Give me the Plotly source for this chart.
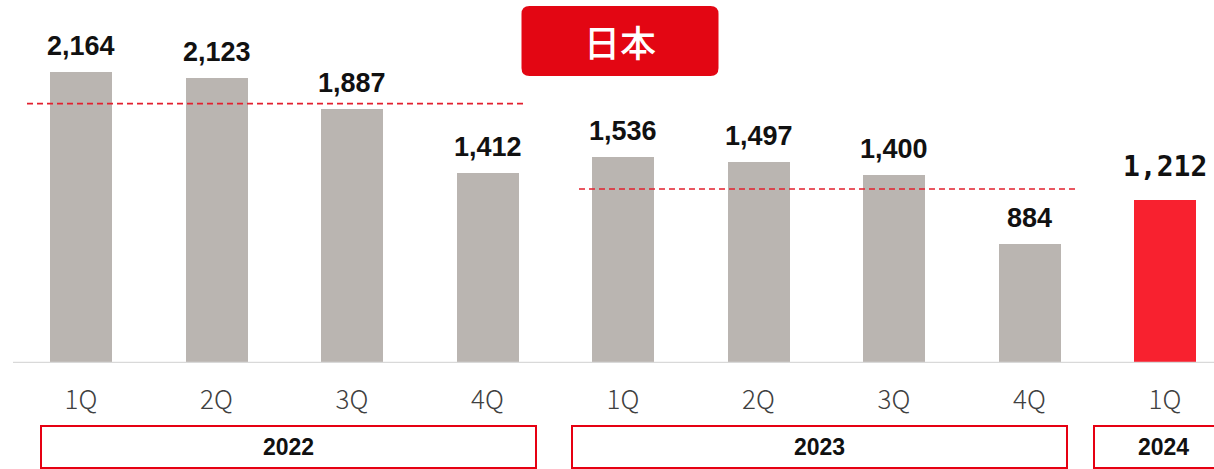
import plotly.graph_objects as go

# Quarterly values (Japan)
quarters = ["1Q", "2Q", "3Q", "4Q", "1Q", "2Q", "3Q", "4Q", "1Q"]
values = [2164, 2123, 1887, 1412, 1536, 1497, 1400, 884, 1212]
bar_colors = ["#bab5b1"] * 8 + ["#f8212f"]

# Year groups: label, first and last quarter index
years = ["2022", "2023", "2024"]
year_start = [0, 4, 8]
year_end = [3, 7, 8]

# Reference level per year (dashed guide lines)
guide_levels = [1930, 1295]

W, H = 1214, 469
PLOT_H = 363                    # pixel height of the plotting area
STEP = 135.5                    # pixels per category
X0 = 81.0                       # pixel centre of first category
UNITS_PER_PX = 7.44

# layout geometry (pixels)
YEAR_BOX_SPANS = [(41, 536), (572, 1067), (1094, 1232)]
GUIDE_SPANS = [(27, 524), (579, 1075)]

def px_to_x(p):
    return (p - X0) / STEP

def py_to_paper(p):
    return (PLOT_H - p) / PLOT_H

xs = list(range(len(values)))

fig = go.Figure()
fig.add_trace(go.Bar(
    x=xs, y=values,
    marker=dict(color=bar_colors, line=dict(width=0)),
    width=62 / STEP,
    hoverinfo="skip",
))

annotations = []
# value labels above bars
for i, v in enumerate(values):
    last = i == len(values) - 1
    annotations.append(dict(
        x=i, y=v, xref="x", yref="y",
        text=f"{v:,}", showarrow=False,
        xanchor="center", yanchor="bottom",
        yshift=15 if last else 9,
        font=dict(
            family="DejaVu Sans Mono" if last else "Liberation Sans",
            size=28 if last else 27,
            color="#111111", weight="bold"),
    ))

shapes = []
# horizontal base line
shapes.append(dict(type="line", xref="paper", yref="y",
                   x0=13 / W, x1=1, y0=0, y1=0,
                   line=dict(color="#d9d9d9", width=2.5), layer="above"))

# dashed guide lines over each year's bars
for lvl, (p0, p1) in zip(guide_levels, GUIDE_SPANS):
    shapes.append(dict(type="line", xref="x", yref="y",
                       x0=px_to_x(p0), x1=px_to_x(p1), y0=lvl, y1=lvl,
                       line=dict(color="#e2202e", width=1.6, dash="6px,4px"),
                       layer="above"))

# year boxes under the axis
box_top = py_to_paper(426)
box_bot = py_to_paper(468)
for label, (p0, p1) in zip(years, YEAR_BOX_SPANS):
    shapes.append(dict(type="rect", xref="x", yref="paper",
                       x0=px_to_x(p0), x1=px_to_x(p1), y0=box_bot, y1=box_top,
                       line=dict(color="#e60012", width=2),
                       fillcolor="rgba(0,0,0,0)"))
    annotations.append(dict(
        x=px_to_x((p0 + p1) / 2), y=(box_top + box_bot) / 2, xref="x", yref="paper",
        text=label, showarrow=False, xanchor="center", yanchor="middle",
        font=dict(family="Liberation Sans", size=23, color="#111111",
                  weight="bold"),
    ))

# rounded title badge
bx0, bx1, by0, by1, r = 521.5, 718.5, 6.0, 76.0, 8.0
def P(px, py):
    return f"{px / W:.5f},{py_to_paper(py):.5f}"
path = (f"M {P(bx0 + r, by0)} L {P(bx1 - r, by0)} Q {P(bx1, by0)} {P(bx1, by0 + r)} "
        f"L {P(bx1, by1 - r)} Q {P(bx1, by1)} {P(bx1 - r, by1)} "
        f"L {P(bx0 + r, by1)} Q {P(bx0, by1)} {P(bx0, by1 - r)} "
        f"L {P(bx0, by0 + r)} Q {P(bx0, by0)} {P(bx0 + r, by0)} Z")
shapes.append(dict(type="path", xref="paper", yref="paper", path=path,
                   fillcolor="#e30613", line=dict(width=0), layer="above"))
annotations.append(dict(
    x=(bx0 + bx1) / 2 / W, y=py_to_paper((by0 + by1) / 2), xref="paper", yref="paper",
    text="日本", showarrow=False, xanchor="center", yanchor="middle",
    font=dict(family="Noto Sans CJK JP", size=36, color="white", weight=500),
))

fig.update_layout(
    width=W, height=H,
    margin=dict(l=0, r=0, t=0, b=H - PLOT_H, pad=0),
    paper_bgcolor="white", plot_bgcolor="white",
    showlegend=False,
    xaxis=dict(
        range=[px_to_x(0), px_to_x(W)],
        tickmode="array", tickvals=xs, ticktext=quarters,
        showgrid=False, zeroline=False, showline=False, ticks="",
        ticklabelstandoff=19,
        tickfont=dict(family="Noto Sans CJK JP", size=26, color="#404040",
                      weight=300),
        fixedrange=True,
    ),
    yaxis=dict(
        range=[0, PLOT_H * UNITS_PER_PX],
        visible=False, showgrid=False, zeroline=False, fixedrange=True,
    ),
    shapes=shapes,
    annotations=annotations,
    bargap=0,
)

fig.write_html("out.html", config={"displayModeBar": False})
